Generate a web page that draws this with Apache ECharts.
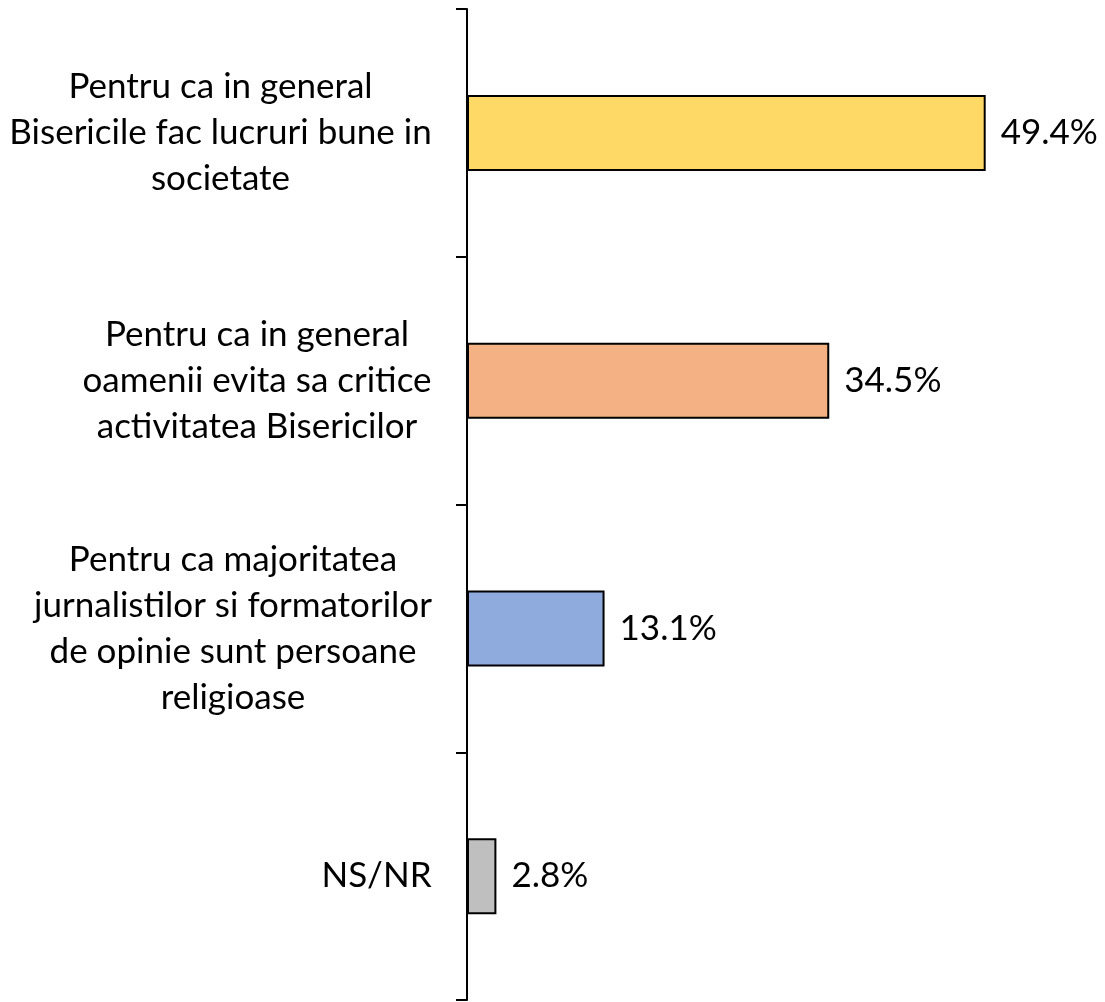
<!DOCTYPE html>
<html>
<head>
<meta charset="utf-8">
<script src="https://cdn.jsdelivr.net/npm/echarts@6/dist/echarts.min.js"></script>
<style>
html,body{margin:0;padding:0;background:#fff;}
#chart{width:1105px;height:1002px;}
</style>
</head>
<body>
<div id="chart"></div>
<script>
const categories = [
  "Pentru ca in general\nBisericile fac lucruri bune in\nsocietate",
  "Pentru ca in general\noamenii evita sa critice\nactivitatea Bisericilor",
  "Pentru ca majoritatea\njurnalistilor si formatorilor\nde opinie sunt persoane\nreligioase",
  "NS/NR"
];
const values = [49.4, 34.5, 13.1, 2.8];
const colors = ["#FFD966", "#F4B183", "#8FAADC", "#BFBFBF"];

const FONT = "Lato";
const FS = 35;
const LH = 46;

const cv = document.createElement('canvas').getContext('2d');
cv.font = FS + 'px "' + FONT + '"';
const rich = {};
const keyOf = {};
categories.forEach((c, i) => {
  const w = Math.max(...c.split('\n').map(s => cv.measureText(s).width));
  rich['l' + i] = {width: Math.ceil(w), align: 'center', fontFamily: FONT, fontSize: FS, lineHeight: LH, color: '#000'};
  keyOf[c] = 'l' + i;
});

const chart = echarts.init(document.getElementById('chart'));
chart.setOption({
  animation: false,
  grid: {left: 467, right: 8, top: 9, bottom: 2, containLabel: false},
  xAxis: {type: 'value', min: 0, max: 60, show: false},
  yAxis: {
    type: 'category', inverse: true, data: categories,
    axisLine: {show: true, lineStyle: {color: '#000', width: 2}},
    axisTick: {show: true, length: 11, lineStyle: {color: '#000', width: 2}},
    axisLabel: {
      margin: 35,
      formatter: (v) => v.split('\n').map(s => '{' + keyOf[v] + '|' + s + '}').join('\n'),
      rich: rich
    },
    splitLine: {show: false}
  },
  series: [{
    type: 'bar',
    data: values.map((v, i) => ({value: v, itemStyle: {color: colors[i]}})),
    barWidth: 76,
    itemStyle: {borderColor: '#000', borderWidth: 2},
    label: {
      show: true, position: 'right', distance: 15,
      formatter: (p) => p.value.toFixed(1) + '%',
      fontFamily: FONT, fontSize: FS, color: '#000'
    }
  }]
});
</script>
</body>
</html>
